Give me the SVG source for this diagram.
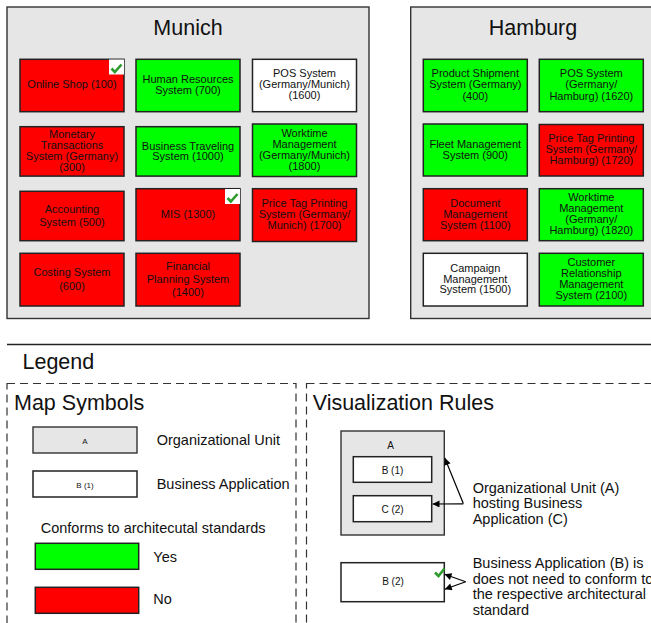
<svg xmlns="http://www.w3.org/2000/svg" width="651" height="623" viewBox="0 0 651 623">
<defs>
<style>
text{font-family:"Liberation Sans",Arial,sans-serif;fill:#111}
.ou{fill:#e6e6e6;stroke:#333;stroke-width:1.4}
.app{stroke:#222;stroke-width:1.5}
.r{fill:#ff0000}
.g{fill:#00ff00}
.w{fill:#ffffff}
.t{font-size:11px;text-anchor:middle}
.title{font-size:21.5px;text-anchor:middle}
.h{font-size:21.5px}
.lg{font-size:14.5px}
.s8{font-size:8px;text-anchor:middle}
.s10{font-size:10px;text-anchor:middle}
.dash{fill:none;stroke:#333;stroke-width:1.2;stroke-dasharray:8 5}
.chk{fill:none;stroke:#2e9b2e;stroke-width:2.6;stroke-linecap:butt;stroke-linejoin:miter}
.conn{fill:none;stroke:#000;stroke-width:1.2}
</style>
<marker id="ah" viewBox="0 0 10 10" refX="10" refY="5" markerWidth="8" markerHeight="7" markerUnits="userSpaceOnUse" orient="auto">
<path d="M0,0 L10,5 L0,10 Z" fill="#000"/>
</marker>
<g id="check"><rect x="0" y="0" width="15" height="15" fill="#fff"/><path class="chk" d="M2.5,9 L5.8,12.5 L12.5,5"/></g>
</defs>
<rect x="0" y="0" width="651" height="623" fill="#fff"/>

<g id="munich">
<rect class="ou" x="7" y="7" width="362" height="311.5"/>
<text class="title" x="188" y="35">Munich</text>
</g>
<g id="app-100"><rect class="app r" x="20" y="59.3" width="104" height="52.4"/><text class="t" x="72" y="88">Online Shop (100)</text><use href="#check" x="109" y="59.5"/></g>
<g id="app-700"><rect class="app g" x="136" y="59.3" width="104" height="52.4"/><text class="t" x="188" y="83.3">Human Resources</text><text class="t" x="188" y="94">System (700)</text></g>
<g id="app-1600"><rect class="app w" x="252.5" y="59.3" width="104" height="52.4"/><text class="t" x="304.5" y="76.7">POS System</text><text class="t" x="304.5" y="88">(Germany/Munich)</text><text class="t" x="304.5" y="99.3">(1600)</text></g>

<g id="app-300"><rect class="app r" x="20" y="126.7" width="104" height="49.4"/><text class="t" x="72" y="138.3">Monetary</text><text class="t" x="72" y="149">Transactions</text><text class="t" x="72" y="159.7">System (Germany)</text><text class="t" x="72" y="170.5">(300)</text></g>
<g id="app-1000"><rect class="app g" x="136" y="126.7" width="104" height="49.4"/><text class="t" x="188" y="149.7">Business Traveling</text><text class="t" x="188" y="160">System (1000)</text></g>
<g id="app-1800"><rect class="app g" x="252.5" y="124" width="104" height="52.5"/><text class="t" x="304.5" y="137.3">Worktime</text><text class="t" x="304.5" y="148.3">Management</text><text class="t" x="304.5" y="159">(Germany/Munich)</text><text class="t" x="304.5" y="170">(1800)</text></g>

<g id="app-500"><rect class="app r" x="20" y="191.3" width="104" height="49.4"/><text class="t" x="72" y="213.3">Accounting</text><text class="t" x="72" y="226">System (500)</text></g>
<g id="app-1300"><rect class="app r" x="136" y="188.7" width="104" height="52"/><text class="t" x="188" y="218">MIS (1300)</text><use href="#check" x="225" y="189"/></g>
<g id="app-1700"><rect class="app r" x="252.5" y="188.7" width="104" height="52.8"/><text class="t" x="304.5" y="207.3">Price Tag Printing</text><text class="t" x="304.5" y="218">System (Germany/</text><text class="t" x="304.5" y="229.3">Munich) (1700)</text></g>

<g id="app-600"><rect class="app r" x="20" y="253.3" width="104" height="52.7"/><text class="t" x="72" y="276.3">Costing System</text><text class="t" x="72" y="290">(600)</text></g>
<g id="app-1400"><rect class="app r" x="136" y="253.3" width="104" height="52.7"/><text class="t" x="188" y="270">Financial</text><text class="t" x="188" y="283.3">Planning System</text><text class="t" x="188" y="296.3">(1400)</text></g>

<g id="hamburg">
<rect class="ou" x="410.7" y="7" width="250" height="311.5"/>
<text class="title" x="533" y="35">Hamburg</text>
</g>
<g id="app-400"><rect class="app g" x="423.3" y="59.3" width="104" height="52.4"/><text class="t" x="475.3" y="76.7">Product Shipment</text><text class="t" x="475.3" y="88.3">System (Germany)</text><text class="t" x="475.3" y="100">(400)</text></g>
<g id="app-1620"><rect class="app g" x="539.3" y="59.3" width="104" height="52.4"/><text class="t" x="591.3" y="76.7">POS System</text><text class="t" x="591.3" y="88.3">(Germany/</text><text class="t" x="591.3" y="100">Hamburg) (1620)</text></g>
<g id="app-900"><rect class="app g" x="423.3" y="124" width="104" height="52"/><text class="t" x="475.3" y="148.3">Fleet Management</text><text class="t" x="475.3" y="159">System (900)</text></g>
<g id="app-1720"><rect class="app r" x="539.3" y="124.5" width="104" height="51.5"/><text class="t" x="591.3" y="141.7">Price Tag Printing</text><text class="t" x="591.3" y="153">System (Germany/</text><text class="t" x="591.3" y="164">Hamburg) (1720)</text></g>
<g id="app-1100"><rect class="app r" x="423.3" y="188.7" width="104" height="52"/><text class="t" x="475.3" y="207.3">Document</text><text class="t" x="475.3" y="218.3">Management</text><text class="t" x="475.3" y="229.3">System (1100)</text></g>
<g id="app-1820"><rect class="app g" x="539.3" y="188.7" width="104" height="52"/><text class="t" x="591.3" y="201.3">Worktime</text><text class="t" x="591.3" y="212.3">Management</text><text class="t" x="591.3" y="223.3">(Germany/</text><text class="t" x="591.3" y="234">Hamburg) (1820)</text></g>
<g id="app-1500"><rect class="app w" x="423.3" y="253.3" width="104" height="52.7"/><text class="t" x="475.3" y="272.3">Campaign</text><text class="t" x="475.3" y="283">Management</text><text class="t" x="475.3" y="293">System (1500)</text></g>
<g id="app-2100"><rect class="app g" x="539.3" y="253.3" width="104" height="52.7"/><text class="t" x="591.3" y="266.3">Customer</text><text class="t" x="591.3" y="277.3">Relationship</text><text class="t" x="591.3" y="288.3">Management</text><text class="t" x="591.3" y="299.3">System (2100)</text></g>

<g id="legend">
<line x1="7" y1="344.5" x2="651" y2="344.5" stroke="#222" stroke-width="1.3"/>
<text class="h" x="22.5" y="368.5">Legend</text>
</g>

<g id="map-symbols">
<rect class="dash" x="7" y="383.5" width="289" height="260"/>
<text class="h" x="14" y="410.3">Map Symbols</text>
<rect class="ou" x="33" y="427" width="104" height="26"/>
<text class="s8" x="85" y="443.5">A</text>
<text class="lg" x="156.7" y="445">Organizational Unit</text>
<rect class="app w" x="33" y="471" width="104" height="26" stroke-width="1.3"/>
<text class="s8" x="85" y="487.5">B (1)</text>
<text class="lg" x="156.7" y="488.5">Business Application</text>
<text class="lg" x="40.7" y="533.3">Conforms to architecutal standards</text>
<rect class="app g" x="35.3" y="543.3" width="103.4" height="26" stroke-width="1.3"/>
<text class="lg" x="153.3" y="561.7">Yes</text>
<rect class="app r" x="35.3" y="587.3" width="103.4" height="26" stroke-width="1.3"/>
<text class="lg" x="153.3" y="604.3">No</text>
</g>

<g id="visualization-rules">
<rect class="dash" x="306.5" y="383.5" width="360" height="260"/>
<text class="h" x="312.7" y="410.3">Visualization Rules</text>
<rect class="ou" x="341" y="431" width="103.3" height="104"/>
<text class="s10" x="390.5" y="448.7">A</text>
<rect class="app w" x="353.3" y="456.7" width="78.4" height="25.6" stroke-width="1.3"/>
<text class="s10" x="392.5" y="473.7">B (1)</text>
<rect class="app w" x="353.3" y="495.7" width="78.4" height="26" stroke-width="1.3"/>
<text class="s10" x="392.5" y="512.7">C (2)</text>
<rect class="app w" x="341" y="562.7" width="103.3" height="39" stroke-width="1.3"/>
<text class="s10" x="393" y="585">B (2)</text>
<path class="chk" d="M435,572.5 L438.5,576 L444.5,568.5"/>
<text class="lg" x="472.7" y="492.7">Organizational Unit (A)</text>
<text class="lg" x="472.7" y="508.2">hosting Business</text>
<text class="lg" x="472.7" y="523.7">Application (C)</text>
<text class="lg" x="472.7" y="567.5">Business Application (B) is</text>
<text class="lg" x="472.7" y="583.5">does not need to conform to</text>
<text class="lg" x="472.7" y="599">the respective architectural</text>
<text class="lg" x="472.7" y="614.5">standard</text>
</g>

<g id="connectors">
<path class="conn" d="M463.3,503.5 L444.8,458" marker-end="url(#ah)"/>
<path class="conn" d="M463.3,503.8 L432.5,504" marker-end="url(#ah)"/>
<path class="conn" d="M465.7,581.7 L444.5,574.3" marker-end="url(#ah)"/>
<path class="conn" d="M465.7,581.7 L444.8,589.3" marker-end="url(#ah)"/>
</g>
</svg>
